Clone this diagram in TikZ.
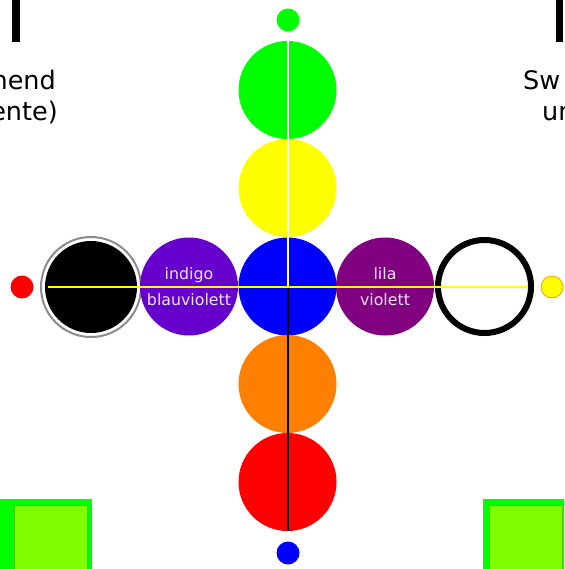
\documentclass[tikz,border=0pt]{standalone}
\usepackage{fontspec}
\setmainfont{DejaVu Sans}
\definecolor{cgreen}{RGB}{0,255,0}
\definecolor{cyellow}{RGB}{255,255,0}
\definecolor{cblue}{RGB}{0,0,255}
\definecolor{corange}{RGB}{255,127,0}
\definecolor{cred}{RGB}{255,0,0}
\definecolor{cindigo}{RGB}{102,0,204}
\definecolor{cpurple}{RGB}{128,0,128}
\definecolor{clime}{RGB}{128,255,0}
\definecolor{climeedge}{RGB}{70,205,0}
\definecolor{clabel}{RGB}{236,228,250}
\begin{document}
\begin{tikzpicture}[x=1pt,y=-1pt,
  disc/.style={circle, minimum size=98pt, inner sep=0pt, draw=none},
  dotnode/.style={circle, minimum size=23pt, inner sep=0pt},
  lab/.style={anchor=base, inner sep=0pt, text=clabel, font=\fontsize{15.8}{19}\selectfont},
  sidetext/.style={inner sep=0pt, font=\fontsize{25.5}{30}\selectfont},
  axis/.style={line width=2pt}]
\useasboundingbox (0,0) rectangle (564,569);
\clip (0,0) rectangle (564,569);
% top bars
\fill[black] (12,0) rectangle (20,42);
\fill[black] (556,0) rectangle (563,42);
% side texts
\node[sidetext, anchor=base east] (tl1) at (56,90) {hend};
\node[sidetext, anchor=base east] (tl2) at (58,121) {ente)};
\node[sidetext, anchor=base west] (tr1) at (523,90) {Sw};
\node[sidetext, anchor=base west] (tr2) at (542,121) {un};
% bottom squares
\fill[cgreen] (0,499) rectangle (92,575);
\filldraw[fill=clime, draw=climeedge, line width=0.8pt] (14,505) rectangle (87,580);
\fill[cgreen] (483,499) rectangle (575,575);
\filldraw[fill=clime, draw=climeedge, line width=0.8pt] (489,505) rectangle (562,580);
% vertical column
\node[disc, fill=cgreen] (green) at (287.5,90) {};
\node[disc, fill=cyellow] (yellow) at (287.5,188) {};
\node[disc, fill=cblue] (blue) at (287.5,286.5) {};
\node[disc, fill=corange] (orange) at (287.5,384) {};
\node[disc, fill=cred] (red) at (287.5,482) {};
% horizontal row
\node[circle, minimum size=100pt, inner sep=0pt, draw=black!45, line width=2pt, fill=white] (blackring) at (91,287) {};
\node[disc, minimum size=92pt, fill=black] (black) at (91,287) {};
\node[disc, fill=cindigo] (indigo) at (189,286.5) {};
\node[disc, fill=cpurple] (purple) at (385,286.5) {};
\node[circle, minimum size=93pt, inner sep=0pt, draw=black, line width=6pt, fill=white] (white) at (484.5,286.5) {};
% small dots
\node[dotnode, fill=cgreen] (dtop) at (288,20) {};
\node[dotnode, fill=cblue] (dbottom) at (288,553) {};
\node[dotnode, fill=cred] (dleft) at (22,287) {};
\node[dotnode, minimum size=22pt, fill=cyellow, draw=orange!80!yellow, line width=0.8pt] (dright) at (552,287) {};
% axes
\draw[axis, white] (green.north) -- (blue.center);
\draw[axis, black] (blue.center) -- (red.south);
\coordinate (hleft) at (48,287);
\coordinate (hright) at (527,287);
\draw[axis, cyellow] (hleft) -- (hright);
% labels
\node[lab] (l1) at (189,279) {indigo};
\node[lab] (l2) at (189,305) {blauviolett};
\node[lab] (l3) at (385,279) {lila};
\node[lab] (l4) at (385,305) {violett};
\end{tikzpicture}
\end{document}
